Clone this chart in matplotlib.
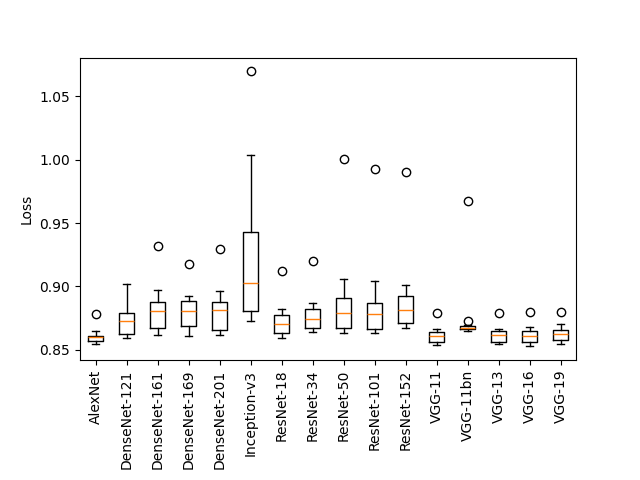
import matplotlib
matplotlib.use("Agg")
import matplotlib.pyplot as plt

models = ["AlexNet", "DenseNet-121", "DenseNet-161", "DenseNet-169", "DenseNet-201",
          "Inception-v3", "ResNet-18", "ResNet-34", "ResNet-50", "ResNet-101",
          "ResNet-152", "VGG-11", "VGG-11bn", "VGG-13", "VGG-16", "VGG-19"]

# box statistics
whislo = [0.8547, 0.8592, 0.8616, 0.8608, 0.8616, 0.8726, 0.8594, 0.8639,
          0.8631, 0.8631, 0.8671, 0.8537, 0.8647, 0.8545, 0.8529, 0.8545]
q1 = [0.8568, 0.8624, 0.8671, 0.8689, 0.8660, 0.8807, 0.8631, 0.8671,
      0.8671, 0.8663, 0.8710, 0.8561, 0.8663, 0.8561, 0.8561, 0.8576]
med = [0.8598, 0.8726, 0.8805, 0.8805, 0.8813, 0.9028, 0.8702, 0.8744,
       0.8789, 0.8781, 0.8815, 0.8608, 0.8676, 0.8616, 0.8608, 0.8624]
q3 = [0.8613, 0.8789, 0.8876, 0.8883, 0.8876, 0.9427, 0.8773, 0.8823,
      0.8907, 0.8868, 0.8923, 0.8639, 0.8687, 0.8647, 0.8647, 0.8655]
whishi = [0.8647, 0.9017, 0.8970, 0.8925, 0.8962, 1.0033, 0.8823, 0.8870,
          0.9059, 0.9043, 0.9009, 0.8663, 0.8694, 0.8663, 0.8679, 0.8705]
fliers = [[0.8783], [], [0.9317], [0.9175], [0.9293], [1.0695], [0.9122], [0.9198],
          [1.0002], [0.9923], [0.9899], [0.8789], [0.9671, 0.8726], [0.8789],
          [0.8797], [0.8797]]

stats = []
for i in range(len(models)):
    stats.append({"label": models[i], "whislo": whislo[i], "q1": q1[i], "med": med[i],
                  "q3": q3[i], "whishi": whishi[i], "fliers": fliers[i]})

fig, ax = plt.subplots(figsize=(6.4, 4.8), dpi=100)
fig.subplots_adjust(bottom=0.25)
ax.bxp(stats)
ax.set_ylabel("Loss")
plt.setp(ax.get_xticklabels(), rotation=90)

fig.savefig("out.png")
